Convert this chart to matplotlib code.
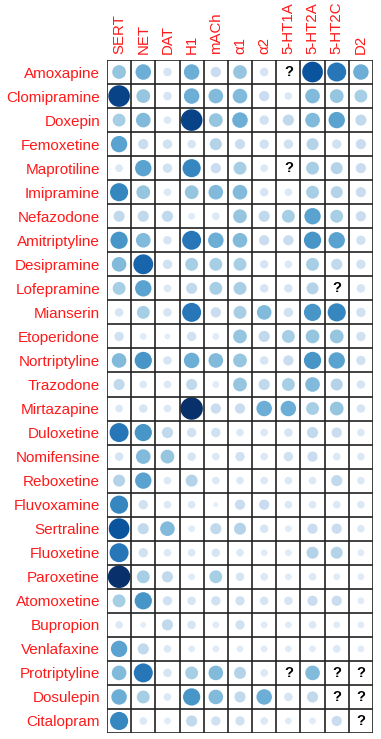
import numpy as np
import matplotlib
matplotlib.use("Agg")
import matplotlib.pyplot as plt

drugs = ["Amoxapine", "Clomipramine", "Doxepin", "Femoxetine", "Maprotiline",
         "Imipramine", "Nefazodone", "Amitriptyline", "Desipramine", "Lofepramine",
         "Mianserin", "Etoperidone", "Nortriptyline", "Trazodone", "Mirtazapine",
         "Duloxetine", "Nomifensine", "Reboxetine", "Fluvoxamine", "Sertraline",
         "Fluoxetine", "Paroxetine", "Atomoxetine", "Bupropion", "Venlafaxine",
         "Protriptyline", "Dosulepin", "Citalopram"]
targets = ["SERT", "NET", "DAT", "H1", "mACh", "α1", "α2", "5-HT1A", "5-HT2A", "5-HT2C", "D2"]

nan = np.nan
# affinity level (0-10 scale), NaN = unknown ("?")
amoxapine     = [5, 6, 2, 6, 3, 5, 2, nan, 9, 8, 6]
clomipramine  = [9.5, 5, 2, 6, 5.5, 5.5, 3, 1.5, 5.5, 5, 4.5]
doxepin       = [4.5, 5.5, 1.5, 9.5, 5, 6, 2.5, 3.5, 5.5, 6.5, 3.5]
femoxetine    = [6.5, 3, 2.5, 2, 4, 3, 2.5, 2.5, 4, 2.5, 3]
maprotiline   = [1.5, 6.5, 2.5, 7.5, 3, 4.5, 1.5, nan, 4.5, 4, 3]
imipramine    = [7.5, 5, 1.5, 5, 5.5, 5.5, 2, 1.5, 4.5, 4, 3]
nefazodone    = [3.5, 3.5, 3.5, 1, 1.5, 5, 3.5, 4.5, 6.5, 4.5, 3]
amitriptyline = [7, 5.5, 2, 8, 6, 5.5, 3, 3, 7, 6.5, 2.5]
desipramine   = [5.5, 8.5, 2.5, 4.5, 4.5, 4.5, 2, 1.5, 4.5, 3.5, 2.5]
lofepramine   = [4.5, 6.5, 1.5, 3.5, 4.5, 4.5, 2, 2, 4, nan, 2]
mianserin     = [2, 4.5, 2, 8, 3, 4.5, 5.5, 2.5, 7, 7.5, 2.5]
etoperidone   = [2.5, 1, 0.5, 2.5, 1, 5, 3.5, 4.5, 5, 5, 2.5]
nortriptyline = [5.5, 7, 2, 6, 5.5, 5, 2, 3, 7, 6.5, 2.5]
trazodone     = [3.5, 1.5, 1.5, 3.5, 1, 5, 3.5, 4.5, 5.5, 4, 2]
mirtazapine   = [1.5, 2, 1.5, 10, 3, 3, 6, 6, 4.5, 5, 2]
duloxetine    = [8, 7, 3.5, 2.5, 2.5, 1.5, 1.5, 2, 3.5, 3, 1.5]
nomifensine   = [2, 5.5, 5, 2, 1.5, 2.5, 1.5, 2.5, 3, 1.5, 1.5]
reboxetine    = [4, 6.5, 1.5, 4, 1.5, 1.5, 1.5, 1.5, 1.5, 3.5, 1.5]
fluvoxamine   = [7.5, 2.5, 1.5, 1.5, 0, 3, 3, 1.5, 1.5, 1.5, 1.5]
sertraline    = [9, 3.5, 5.5, 1, 3.5, 4, 2, 1, 3, 3, 1.5]
fluoxetine    = [8, 2.5, 1.5, 1.5, 2, 1.5, 1, 1, 4, 4, 1]
paroxetine    = [10, 4.5, 3.5, 1, 4.5, 2, 1.5, 1, 1.5, 1, 1]
atomoxetine   = [4.5, 7, 2.5, 2, 2.5, 2.5, 2, 2, 3, 3, 1]
bupropion     = [1.5, 0.5, 3.5, 2, 1, 2.5, 1, 1, 1.5, 1, 1]
venlafaxine   = [6.5, 3.5, 1.5, 1, 1, 1, 1, 1, 1, 1.5, 1]
protriptyline = [5.5, 8, 2, 4.5, 5.5, 4, 1.5, nan, 5.5, nan, nan]
dosulepin     = [6, 4.5, 1.5, 7, 5.5, 3.5, 6, 2, 3.5, nan, nan]
citalopram    = [7.5, 1.5, 1, 3.5, 2.5, 2.5, 1.5, 1, 1, 3, nan]

values = np.array([amoxapine, clomipramine, doxepin, femoxetine, maprotiline,
                   imipramine, nefazodone, amitriptyline, desipramine, lofepramine,
                   mianserin, etoperidone, nortriptyline, trazodone, mirtazapine,
                   duloxetine, nomifensine, reboxetine, fluvoxamine, sertraline,
                   fluoxetine, paroxetine, atomoxetine, bupropion, venlafaxine,
                   protriptyline, dosulepin, citalopram], dtype=float)

plt.rcParams['font.family'] = ['Liberation Sans', 'DejaVu Sans']

W, H = 381, 739
fig = plt.figure(figsize=(W / 100, H / 100), dpi=100)
left, right, top, bottom = 107, 373, 60, 733
ax = fig.add_axes([left / W, 1 - bottom / H, (right - left) / W, (bottom - top) / H])

nr, nc = values.shape
ax.set_xlim(0, nc)
ax.set_ylim(nr, 0)

cmap = plt.get_cmap('Blues')
xs, ys, ss, cs = [], [], [], []
for i in range(nr):
    for j in range(nc):
        v = values[i, j]
        if np.isnan(v):
            ax.text(j + 0.5, i + 0.5, "?", ha='center', va='center',
                    fontsize=10.5, fontweight='bold', color='black')
            continue
        d = 5.0 + 17.5 * v / 10.0  # diameter px
        xs.append(j + 0.5)
        ys.append(i + 0.5)
        ss.append((d * 0.72) ** 2)
        cs.append(cmap(0.1 + 0.9 * (v / 10.0) ** 1.6))
ax.scatter(xs, ys, s=ss, c=cs, linewidths=0, zorder=2)

for k in range(nr + 1):
    ax.axhline(k, color='#222222', lw=1.2, zorder=3)
for k in range(nc + 1):
    ax.axvline(k, color='#222222', lw=1.2, zorder=3)

ax.set_xticks(np.arange(nc) + 0.5)
ax.set_xticklabels(targets, rotation=90, color='#ff1a1a', fontsize=10.8)
ax.xaxis.tick_top()
ax.set_yticks(np.arange(nr) + 0.5)
ax.set_yticklabels(drugs, color='#ff1a1a', fontsize=11)
ax.tick_params(axis='y', length=0, pad=5)
ax.tick_params(axis='x', length=0, pad=4)
for s in ax.spines.values():
    s.set_visible(False)

fig.savefig("out.png", dpi=100)
